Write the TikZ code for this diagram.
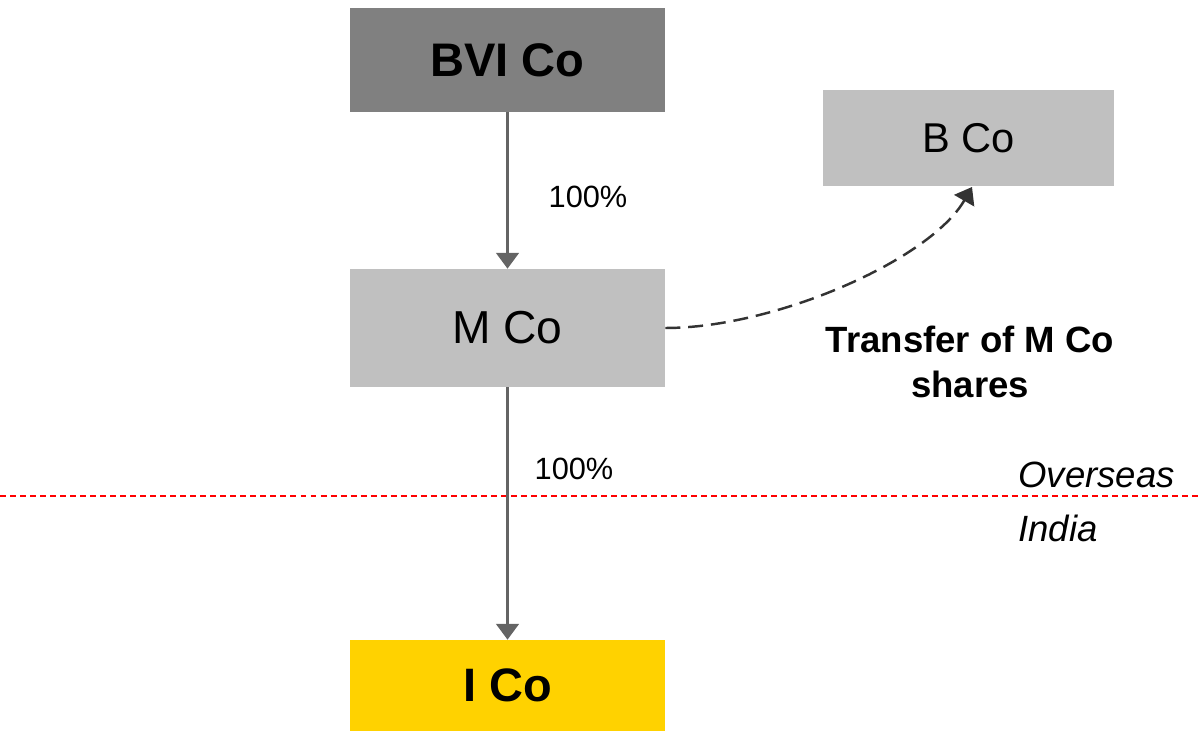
\documentclass[tikz,border=0pt]{standalone}
\usepackage{fontspec}
\setmainfont{Liberation Sans}
\usetikzlibrary{arrows.meta}
\definecolor{darkbox}{HTML}{808080}
\definecolor{lightbox}{HTML}{C0C0C0}
\definecolor{yellowbox}{HTML}{FFD200}
\definecolor{arrowgray}{HTML}{646464}
\definecolor{dashdark}{HTML}{333333}
\begin{document}
\begin{tikzpicture}[
  box/.style={rectangle, inner sep=0pt, text=black},
  own/.style={draw=arrowgray, line width=1.2pt, -{Triangle[width=13pt,length=9pt]}},
  transfer/.style={draw=dashdark, line width=1.4pt, dash pattern=on 8.5pt off 4.5pt, -{Triangle[width=13pt,length=9pt]}},
  pct/.style={font=\fontsize{17.5}{20}\selectfont, inner sep=0pt},
  region/.style={font=\fontsize{20.8}{24}\selectfont\itshape, inner sep=0pt, anchor=west}
]
\useasboundingbox (0,0) rectangle (24,-14.62);
\node[box, fill=darkbox, minimum width=6.3cm, minimum height=2.08cm, font=\fontsize{26.8}{30}\selectfont\bfseries] (bvi) at (10.15,-1.2) {BVI Co};
\node[box, fill=lightbox, minimum width=5.82cm, minimum height=1.92cm, font=\fontsize{23.7}{28}\selectfont] (bco) at (19.37,-2.76) {B Co};
\node[box, fill=lightbox, minimum width=6.3cm, minimum height=2.36cm, font=\fontsize{26.3}{30}\selectfont] (mco) at (10.15,-6.56) {M Co};
\node[box, fill=yellowbox, minimum width=6.3cm, minimum height=1.82cm, font=\fontsize{26.7}{30}\selectfont\bfseries] (ico) at (10.15,-13.71) {I Co};

\draw[red, line width=0.8pt, dash pattern=on 3.4pt off 2.3pt] (0,-9.92) coordinate (l0) -- (24,-9.92) coordinate (l1);

\draw[own] (bvi.south) -- (mco.north);
\draw[own] (mco.south) -- (ico.north);
\coordinate (btgt) at (19.44,-3.74);
\draw[transfer] (mco.east) .. controls (15.5,-6.56) and (18.6,-5.2) .. (btgt);

\node[pct] (p1) at (11.76,-3.94) {100\%};
\node[pct] (p2) at (11.48,-9.38) {100\%};
\node[align=center, inner sep=0pt, font=\fontsize{20.8}{25.5}\selectfont\bfseries] (tlab) at (19.4,-7.24) {Transfer of M Co\\shares};
\node[region] (ovs) at (20.36,-9.5) {Overseas};
\node[region] (ind) at (20.36,-10.56) {India};
\end{tikzpicture}
\end{document}
